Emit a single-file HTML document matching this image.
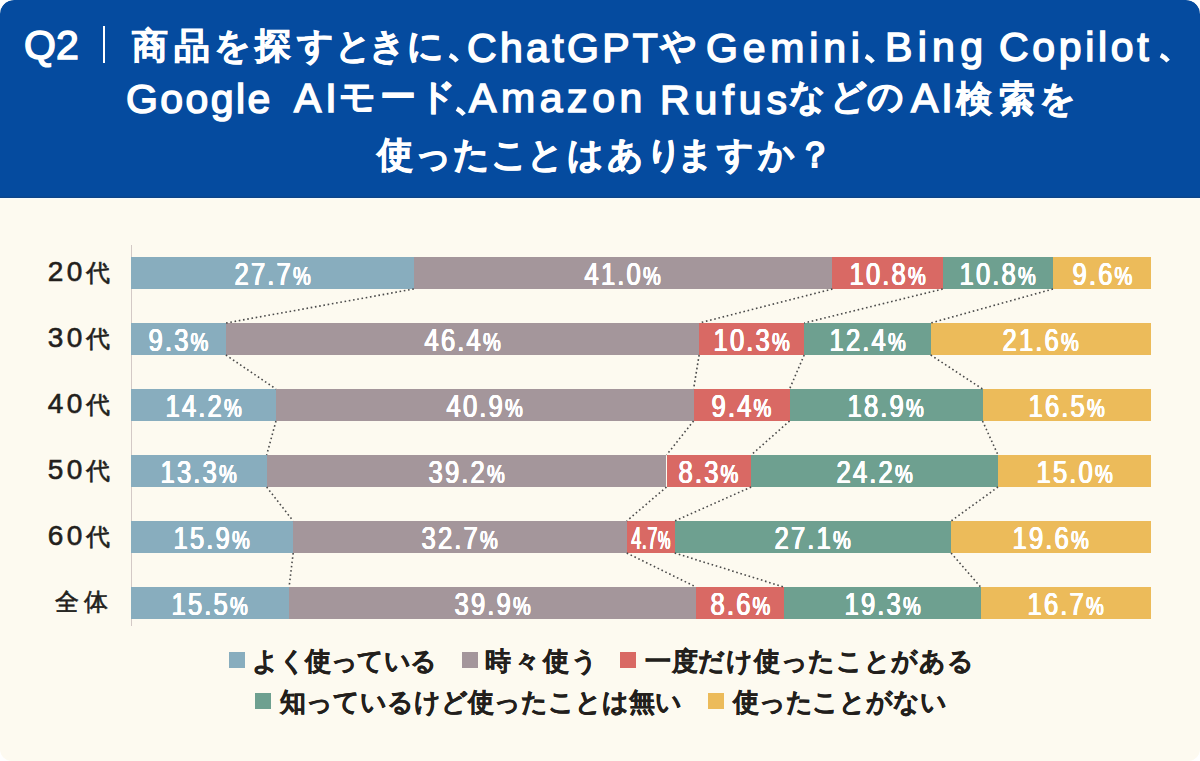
<!DOCTYPE html>
<html lang="ja"><head><meta charset="utf-8">
<style>
html,body{margin:0;padding:0;}
body{width:1200px;height:761px;position:relative;overflow:hidden;background:#ffffff;font-family:"Liberation Sans",sans-serif;}
.card{position:absolute;left:0;top:0;width:1200px;height:761px;background:#fdfaf0;border-radius:14px 14px 12px 12px;overflow:hidden;}
.head{position:absolute;left:0;top:0;width:1200px;height:197.5px;background:#054b9f;border-radius:14px 14px 0 0;box-shadow:inset 0 -1.2px 0 #0f4588;}
.hs{position:absolute;white-space:nowrap;color:#fff;font-weight:bold;line-height:60px;}
.bar1{position:absolute;left:103px;top:26px;width:2px;height:37px;background:#fff;}
.cm{position:absolute;left:0;top:0;}
.cm path{fill:none;stroke:#fff;stroke-width:4.6;}
.wl{position:absolute;left:0;top:197.5px;width:1200px;height:1.5px;background:#f6fcfd;}
.axis{position:absolute;left:131px;top:245px;width:1px;height:381px;background:#d3c9c6;}
.lab{position:absolute;white-space:nowrap;line-height:60px;font-size:24px;font-weight:normal;color:#231f1c;-webkit-text-stroke:0.6px #231f1c;}
.lab b{font-weight:normal;font-size:28px;}
.seg{position:absolute;height:32px;display:flex;align-items:center;justify-content:center;overflow:visible;}
.num{display:inline-block;color:#fff;font-weight:normal;font-size:32px;line-height:32px;white-space:nowrap;letter-spacing:2.7px;transform:scaleX(0.8);text-shadow:0.65px 0 0 #fff,-0.65px 0 0 #fff,0 0.35px 0 #fff,0 -0.35px 0 #fff;position:relative;top:1.5px;}
.pc{font-size:25px;letter-spacing:0;}
.num.sq{transform:scaleX(0.56);letter-spacing:1px;}
.dots{position:absolute;left:0;top:0;}
.dots line{stroke:#4a4a4a;stroke-width:1.6;stroke-dasharray:1.6 2.7;}
.leg{position:absolute;white-space:nowrap;font-size:26px;font-weight:bold;color:#231f1c;line-height:60px;-webkit-text-stroke:0.35px #231f1c;}
i{display:inline-block;font-style:normal;text-align:center;letter-spacing:0;}
.sw{position:absolute;width:16px;height:16px;}
</style></head><body>
<div class="card">
<div class="head">
<div class="hs" style="left:24.0px;top:15.0px;font-size:41px;font-weight:normal;letter-spacing:0.0px;-webkit-text-stroke:1.5px #fff">Q2</div>
<div class="hs" style="left:119.8px;top:16.0px;width:60px;text-align:center;font-size:36px;font-weight:bold;-webkit-text-stroke:0.7px #fff">商</div>
<div class="hs" style="left:162.3px;top:16.0px;width:60px;text-align:center;font-size:36px;font-weight:bold;-webkit-text-stroke:0.7px #fff">品</div>
<div class="hs" style="left:202.6px;top:16.0px;width:60px;text-align:center;font-size:36px;font-weight:bold;-webkit-text-stroke:0.7px #fff">を</div>
<div class="hs" style="left:243.3px;top:16.0px;width:60px;text-align:center;font-size:36px;font-weight:bold;-webkit-text-stroke:0.7px #fff">探</div>
<div class="hs" style="left:285.5px;top:16.0px;width:60px;text-align:center;font-size:36px;font-weight:bold;-webkit-text-stroke:0.7px #fff">す</div>
<div class="hs" style="left:323.4px;top:16.0px;width:60px;text-align:center;font-size:36px;font-weight:bold;-webkit-text-stroke:0.7px #fff">と</div>
<div class="hs" style="left:357.7px;top:16.0px;width:60px;text-align:center;font-size:36px;font-weight:bold;-webkit-text-stroke:0.7px #fff">き</div>
<div class="hs" style="left:395.9px;top:16.0px;width:60px;text-align:center;font-size:36px;font-weight:bold;-webkit-text-stroke:0.7px #fff">に</div>
<div class="hs" style="left:467.0px;top:18.0px;font-size:41px;font-weight:normal;letter-spacing:3.33px;-webkit-text-stroke:1.5px #fff">ChatGPT</div>
<div class="hs" style="left:648.0px;top:16.0px;width:60px;text-align:center;font-size:36px;font-weight:bold;-webkit-text-stroke:0.7px #fff">や</div>
<div class="hs" style="left:706.0px;top:18.0px;font-size:41px;font-weight:normal;letter-spacing:4.8px;-webkit-text-stroke:1.5px #fff">Gemini</div>
<div class="hs" style="left:885.0px;top:17.0px;font-size:41px;font-weight:normal;letter-spacing:5.33px;-webkit-text-stroke:1.5px #fff">Bing</div>
<div class="hs" style="left:999.0px;top:17.0px;font-size:41px;font-weight:normal;letter-spacing:3.67px;-webkit-text-stroke:1.5px #fff">Copilot</div>
<div class="hs" style="left:126.0px;top:69.0px;font-size:41px;font-weight:normal;letter-spacing:2.4px;-webkit-text-stroke:1.5px #fff">Google</div>
<div class="hs" style="left:294.0px;top:67.5px;font-size:41px;font-weight:normal;letter-spacing:4.0px;-webkit-text-stroke:1.5px #fff">AI</div>
<div class="hs" style="left:327.2px;top:67.0px;width:60px;text-align:center;font-size:36px;font-weight:bold;-webkit-text-stroke:0.7px #fff">モ</div>
<div class="hs" style="left:367.5px;top:67.0px;width:60px;text-align:center;font-size:36px;font-weight:bold;-webkit-text-stroke:0.7px #fff">ー</div>
<div class="hs" style="left:407.1px;top:67.0px;width:60px;text-align:center;font-size:36px;font-weight:bold;-webkit-text-stroke:0.7px #fff">ド</div>
<div class="hs" style="left:469.0px;top:67.5px;font-size:41px;font-weight:normal;letter-spacing:4.6px;-webkit-text-stroke:1.5px #fff">Amazon</div>
<div class="hs" style="left:660.0px;top:69.5px;font-size:41px;font-weight:normal;letter-spacing:5.0px;-webkit-text-stroke:1.5px #fff">Rufus</div>
<div class="hs" style="left:777.5px;top:67.0px;width:60px;text-align:center;font-size:36px;font-weight:bold;-webkit-text-stroke:0.7px #fff">な</div>
<div class="hs" style="left:818.6px;top:67.0px;width:60px;text-align:center;font-size:36px;font-weight:bold;-webkit-text-stroke:0.7px #fff">ど</div>
<div class="hs" style="left:855.9px;top:67.0px;width:60px;text-align:center;font-size:36px;font-weight:bold;-webkit-text-stroke:0.7px #fff">の</div>
<div class="hs" style="left:911.0px;top:67.5px;font-size:41px;font-weight:normal;letter-spacing:3.0px;-webkit-text-stroke:1.5px #fff">AI</div>
<div class="hs" style="left:943.6px;top:69.0px;width:60px;text-align:center;font-size:36px;font-weight:bold;-webkit-text-stroke:0.7px #fff">検</div>
<div class="hs" style="left:986.5px;top:69.0px;width:60px;text-align:center;font-size:36px;font-weight:bold;-webkit-text-stroke:0.7px #fff">索</div>
<div class="hs" style="left:1027.6px;top:69.0px;width:60px;text-align:center;font-size:36px;font-weight:bold;-webkit-text-stroke:0.7px #fff">を</div>
<div class="hs" style="left:365.0px;top:125.0px;width:60px;text-align:center;font-size:36px;font-weight:bold;-webkit-text-stroke:0.7px #fff">使</div>
<div class="hs" style="left:403.2px;top:125.0px;width:60px;text-align:center;font-size:36px;font-weight:bold;-webkit-text-stroke:0.7px #fff">っ</div>
<div class="hs" style="left:441.6px;top:125.0px;width:60px;text-align:center;font-size:36px;font-weight:bold;-webkit-text-stroke:0.7px #fff">た</div>
<div class="hs" style="left:479.9px;top:125.0px;width:60px;text-align:center;font-size:36px;font-weight:bold;-webkit-text-stroke:0.7px #fff">こ</div>
<div class="hs" style="left:515.4px;top:125.0px;width:60px;text-align:center;font-size:36px;font-weight:bold;-webkit-text-stroke:0.7px #fff">と</div>
<div class="hs" style="left:555.6px;top:125.0px;width:60px;text-align:center;font-size:36px;font-weight:bold;-webkit-text-stroke:0.7px #fff">は</div>
<div class="hs" style="left:595.4px;top:125.0px;width:60px;text-align:center;font-size:36px;font-weight:bold;-webkit-text-stroke:0.7px #fff">あ</div>
<div class="hs" style="left:634.7px;top:125.0px;width:60px;text-align:center;font-size:36px;font-weight:bold;-webkit-text-stroke:0.7px #fff">り</div>
<div class="hs" style="left:665.9px;top:125.0px;width:60px;text-align:center;font-size:36px;font-weight:bold;-webkit-text-stroke:0.7px #fff">ま</div>
<div class="hs" style="left:705.6px;top:125.0px;width:60px;text-align:center;font-size:36px;font-weight:bold;-webkit-text-stroke:0.7px #fff">す</div>
<div class="hs" style="left:746.8px;top:125.0px;width:60px;text-align:center;font-size:36px;font-weight:bold;-webkit-text-stroke:0.7px #fff">か</div>
<div class="hs" style="left:784.7px;top:125.0px;width:60px;text-align:center;font-size:36px;font-weight:bold;-webkit-text-stroke:0.7px #fff">？</div>
<div class="bar1"></div>
<svg class="cm" width="1200" height="197"><path d="M449.8 55.1 Q454.0 57.3 457.1 61.1"/><path d="M865.8 56.1 Q870.0 58.3 873.1 62.1"/><path d="M1160.8 55.1 Q1165.0 57.3 1168.1 61.1"/><path d="M456.8 108.6 Q461.0 110.8 464.1 114.6"/></svg>
</div>
<div class="wl"></div>
<div class="axis"></div>
<div class="lab" style="top:242.0px;left:47.75px;"><b style="letter-spacing:3.5px">20</b><i style="width:27.50px;margin:0 1.75px 0 -1.75px">代</i></div><div class="seg" style="left:131.00px;top:257px;width:282.82px;background:#88adbe"><span class="num">27.7<span class="pc">%</span></span></div><div class="seg" style="left:413.82px;top:257px;width:418.62px;background:#a4969b"><span class="num">41.0<span class="pc">%</span></span></div><div class="seg" style="left:832.44px;top:257px;width:110.27px;background:#d96964"><span class="num">10.8<span class="pc">%</span></span></div><div class="seg" style="left:942.71px;top:257px;width:110.27px;background:#6ea090"><span class="num">10.8<span class="pc">%</span></span></div><div class="seg" style="left:1052.98px;top:257px;width:98.02px;background:#ecbb5a"><span class="num">9.6<span class="pc">%</span></span></div><div class="lab" style="top:308.0px;left:47.75px;"><b style="letter-spacing:3.5px">30</b><i style="width:27.50px;margin:0 1.75px 0 -1.75px">代</i></div><div class="seg" style="left:131.00px;top:323px;width:94.86px;background:#88adbe"><span class="num">9.3<span class="pc">%</span></span></div><div class="seg" style="left:225.86px;top:323px;width:473.28px;background:#a4969b"><span class="num">46.4<span class="pc">%</span></span></div><div class="seg" style="left:699.14px;top:323px;width:105.06px;background:#d96964"><span class="num">10.3<span class="pc">%</span></span></div><div class="seg" style="left:804.20px;top:323px;width:126.48px;background:#6ea090"><span class="num">12.4<span class="pc">%</span></span></div><div class="seg" style="left:930.68px;top:323px;width:220.32px;background:#ecbb5a"><span class="num">21.6<span class="pc">%</span></span></div><div class="lab" style="top:374.0px;left:47.75px;"><b style="letter-spacing:3.5px">40</b><i style="width:27.50px;margin:0 1.75px 0 -1.75px">代</i></div><div class="seg" style="left:131.00px;top:389px;width:144.98px;background:#88adbe"><span class="num">14.2<span class="pc">%</span></span></div><div class="seg" style="left:275.98px;top:389px;width:417.60px;background:#a4969b"><span class="num">40.9<span class="pc">%</span></span></div><div class="seg" style="left:693.58px;top:389px;width:95.98px;background:#d96964"><span class="num">9.4<span class="pc">%</span></span></div><div class="seg" style="left:789.56px;top:389px;width:192.97px;background:#6ea090"><span class="num">18.9<span class="pc">%</span></span></div><div class="seg" style="left:982.53px;top:389px;width:168.47px;background:#ecbb5a"><span class="num">16.5<span class="pc">%</span></span></div><div class="lab" style="top:440.0px;left:47.75px;"><b style="letter-spacing:3.5px">50</b><i style="width:27.50px;margin:0 1.75px 0 -1.75px">代</i></div><div class="seg" style="left:131.00px;top:455px;width:135.66px;background:#88adbe"><span class="num">13.3<span class="pc">%</span></span></div><div class="seg" style="left:266.66px;top:455px;width:399.84px;background:#a4969b"><span class="num">39.2<span class="pc">%</span></span></div><div class="seg" style="left:666.50px;top:455px;width:84.66px;background:#d96964"><span class="num">8.3<span class="pc">%</span></span></div><div class="seg" style="left:751.16px;top:455px;width:246.84px;background:#6ea090"><span class="num">24.2<span class="pc">%</span></span></div><div class="seg" style="left:998.00px;top:455px;width:153.00px;background:#ecbb5a"><span class="num">15.0<span class="pc">%</span></span></div><div class="lab" style="top:506.0px;left:47.75px;"><b style="letter-spacing:3.5px">60</b><i style="width:27.50px;margin:0 1.75px 0 -1.75px">代</i></div><div class="seg" style="left:131.00px;top:521px;width:162.18px;background:#88adbe"><span class="num">15.9<span class="pc">%</span></span></div><div class="seg" style="left:293.18px;top:521px;width:333.54px;background:#a4969b"><span class="num">32.7<span class="pc">%</span></span></div><div class="seg" style="left:626.72px;top:521px;width:47.94px;background:#d96964"><span class="num sq">4.7<span class="pc">%</span></span></div><div class="seg" style="left:674.66px;top:521px;width:276.42px;background:#6ea090"><span class="num">27.1<span class="pc">%</span></span></div><div class="seg" style="left:951.08px;top:521px;width:199.92px;background:#ecbb5a"><span class="num">19.6<span class="pc">%</span></span></div><div class="lab" style="top:572.0px;left:47.0px;width:40px;text-align:center">全</div><div class="lab" style="top:572.0px;left:76.4px;width:40px;text-align:center">体</div><div class="seg" style="left:131.00px;top:587px;width:158.10px;background:#88adbe"><span class="num">15.5<span class="pc">%</span></span></div><div class="seg" style="left:289.10px;top:587px;width:406.98px;background:#a4969b"><span class="num">39.9<span class="pc">%</span></span></div><div class="seg" style="left:696.08px;top:587px;width:87.72px;background:#d96964"><span class="num">8.6<span class="pc">%</span></span></div><div class="seg" style="left:783.80px;top:587px;width:196.86px;background:#6ea090"><span class="num">19.3<span class="pc">%</span></span></div><div class="seg" style="left:980.66px;top:587px;width:170.34px;background:#ecbb5a"><span class="num">16.7<span class="pc">%</span></span></div>
<svg class="dots" width="1200" height="761" viewBox="0 0 1200 761"><line x1="413.82" y1="289" x2="225.86" y2="323"/><line x1="832.44" y1="289" x2="699.14" y2="323"/><line x1="942.71" y1="289" x2="804.20" y2="323"/><line x1="1052.98" y1="289" x2="930.68" y2="323"/><line x1="225.86" y1="355" x2="275.98" y2="389"/><line x1="699.14" y1="355" x2="693.58" y2="389"/><line x1="804.20" y1="355" x2="789.56" y2="389"/><line x1="930.68" y1="355" x2="982.53" y2="389"/><line x1="275.98" y1="421" x2="266.66" y2="455"/><line x1="693.58" y1="421" x2="666.50" y2="455"/><line x1="789.56" y1="421" x2="751.16" y2="455"/><line x1="982.53" y1="421" x2="998.00" y2="455"/><line x1="266.66" y1="487" x2="293.18" y2="521"/><line x1="666.50" y1="487" x2="626.72" y2="521"/><line x1="751.16" y1="487" x2="674.66" y2="521"/><line x1="998.00" y1="487" x2="951.08" y2="521"/><line x1="293.18" y1="553" x2="289.10" y2="587"/><line x1="626.72" y1="553" x2="696.08" y2="587"/><line x1="674.66" y1="553" x2="783.80" y2="587"/><line x1="951.08" y1="553" x2="980.66" y2="587"/></svg>
<div class="sw" style="left:229px;top:652px;background:#88adbe"></div>
<div class="sw" style="left:255px;top:693px;background:#6ea090"></div>
<div class="sw" style="left:462px;top:652px;background:#a4969b"></div>
<div class="sw" style="left:620px;top:652px;background:#d96964"></div>
<div class="sw" style="left:708px;top:693px;background:#ecbb5a"></div>
<div class="leg" style="left:252.0px;top:630.5px;"><i style="width:26.50px;margin:0 -0.25px 0 0.25px">よ</i><i style="width:26.50px;margin:0 -0.25px 0 0.25px">く</i><i style="width:25.50px;margin:0 -0.25px 0 0.25px">使</i><i style="width:26.50px;margin:0 -0.25px 0 0.25px">っ</i><i style="width:26.50px;margin:0 -0.25px 0 0.25px">て</i><i style="width:26.50px;margin:0 -0.25px 0 0.25px">い</i><i style="width:26.50px;margin:0 -0.25px 0 0.25px">る</i></div>
<div class="leg" style="left:485.0px;top:630.5px;"><i style="width:28.83px;margin:0 1.42px 0 -1.42px">時</i><i style="width:28.83px;margin:0 1.42px 0 -1.42px">々</i><i style="width:28.83px;margin:0 1.42px 0 -1.42px">使</i><i style="width:29.83px;margin:0 1.42px 0 -1.42px">う</i></div>
<div class="leg" style="left:645.0px;top:630.5px;"><i style="width:26.73px;margin:0 0.36px 0 -0.36px">一</i><i style="width:26.73px;margin:0 0.36px 0 -0.36px">度</i><i style="width:27.73px;margin:0 0.36px 0 -0.36px">だ</i><i style="width:27.73px;margin:0 0.36px 0 -0.36px">け</i><i style="width:26.73px;margin:0 0.36px 0 -0.36px">使</i><i style="width:27.73px;margin:0 0.36px 0 -0.36px">っ</i><i style="width:27.73px;margin:0 0.36px 0 -0.36px">た</i><i style="width:27.73px;margin:0 0.36px 0 -0.36px">こ</i><i style="width:27.73px;margin:0 0.36px 0 -0.36px">と</i><i style="width:27.73px;margin:0 0.36px 0 -0.36px">が</i><i style="width:27.73px;margin:0 0.36px 0 -0.36px">あ</i><i style="width:27.73px;margin:0 0.36px 0 -0.36px">る</i></div>
<div class="leg" style="left:280.0px;top:671.5px;"><i style="width:26.00px;margin:0 0.00px 0 -0.00px">知</i><i style="width:27.00px;margin:0 0.00px 0 -0.00px">っ</i><i style="width:27.00px;margin:0 0.00px 0 -0.00px">て</i><i style="width:27.00px;margin:0 0.00px 0 -0.00px">い</i><i style="width:27.00px;margin:0 0.00px 0 -0.00px">る</i><i style="width:27.00px;margin:0 0.00px 0 -0.00px">け</i><i style="width:27.00px;margin:0 0.00px 0 -0.00px">ど</i><i style="width:26.00px;margin:0 0.00px 0 -0.00px">使</i><i style="width:27.00px;margin:0 0.00px 0 -0.00px">っ</i><i style="width:27.00px;margin:0 0.00px 0 -0.00px">た</i><i style="width:27.00px;margin:0 0.00px 0 -0.00px">こ</i><i style="width:27.00px;margin:0 0.00px 0 -0.00px">と</i><i style="width:27.00px;margin:0 0.00px 0 -0.00px">は</i><i style="width:26.00px;margin:0 0.00px 0 -0.00px">無</i><i style="width:27.00px;margin:0 0.00px 0 -0.00px">い</i></div>
<div class="leg" style="left:733.0px;top:671.5px;"><i style="width:25.80px;margin:0 -0.10px 0 0.10px">使</i><i style="width:26.80px;margin:0 -0.10px 0 0.10px">っ</i><i style="width:26.80px;margin:0 -0.10px 0 0.10px">た</i><i style="width:26.80px;margin:0 -0.10px 0 0.10px">こ</i><i style="width:26.80px;margin:0 -0.10px 0 0.10px">と</i><i style="width:26.80px;margin:0 -0.10px 0 0.10px">が</i><i style="width:26.80px;margin:0 -0.10px 0 0.10px">な</i><i style="width:26.80px;margin:0 -0.10px 0 0.10px">い</i></div>
</div>
</body></html>
